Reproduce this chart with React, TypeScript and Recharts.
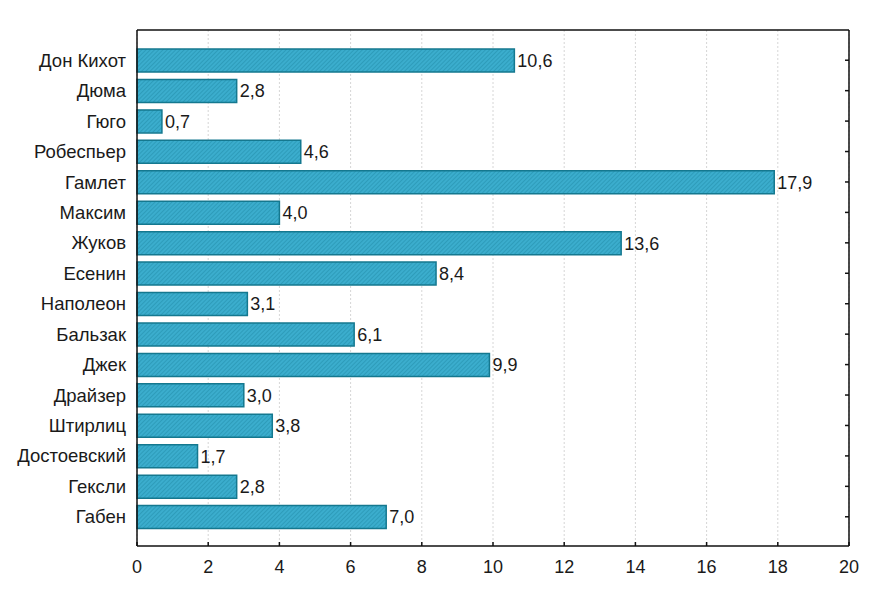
import React from "react";
import {
  BarChart,
  Bar,
  XAxis,
  YAxis,
  CartesianGrid,
  LabelList,
} from "recharts";

const names = [
  "Дон Кихот",
  "Дюма",
  "Гюго",
  "Робеспьер",
  "Гамлет",
  "Максим",
  "Жуков",
  "Есенин",
  "Наполеон",
  "Бальзак",
  "Джек",
  "Драйзер",
  "Штирлиц",
  "Достоевский",
  "Гексли",
  "Габен",
];

const values = [10.6, 2.8, 0.7, 4.6, 17.9, 4.0, 13.6, 8.4, 3.1, 6.1, 9.9, 3.0, 3.8, 1.7, 2.8, 7.0];

const xTicks = [0, 2, 4, 6, 8, 10, 12, 14, 16, 18, 20];

const data = names.map((name, i) => ({ name, value: values[i] }));

const font = "'Liberation Sans', Arial, sans-serif";

const BottomTick = (props: any) => {
  const { x, y, payload } = props;
  return (
    <g>
      <line x1={x} x2={x} y1={y} y2={y - 4} stroke="#111" strokeWidth={1.5} />
      <text x={x} y={y + 27} textAnchor="middle" fontSize={18} fill="#1a1a1a" fontFamily={font}>
        {payload.value}
      </text>
    </g>
  );
};

const TopTick = (props: any) => {
  const { x, y } = props;
  return <line x1={x} x2={x} y1={y} y2={y + 4} stroke="#111" strokeWidth={1.5} />;
};

const RightTick = (props: any) => {
  const { x, y } = props;
  return <line x1={x} x2={x - 4} y1={y} y2={y} stroke="#111" strokeWidth={1.5} />;
};

export default function App() {
  return (
    <div style={{ position: "absolute", left: 0, top: 0, background: "#fff" }}>
      <BarChart
        width={889}
        height={604}
        data={data}
        layout="vertical"
        margin={{ top: 29, right: 39, bottom: 0, left: 0 }}
      >
        <defs>
          <pattern
            id="hatch"
            width={3}
            height={3}
            patternUnits="userSpaceOnUse"
            patternTransform="rotate(45)"
          >
            <rect width={3} height={3} fill="#3badcd" />
            <line x1={0} y1={0} x2={0} y2={3} stroke="#2590ae" strokeWidth={1.2} />
          </pattern>
        </defs>
        <CartesianGrid horizontal={false} stroke="#d6d6d6" strokeDasharray="2 2" />
        <XAxis
          type="number"
          domain={[0, 20]}
          ticks={xTicks}
          interval={0}
          height={58}
          tickSize={0}
          tickMargin={0}
          axisLine={{ stroke: "#111", strokeWidth: 1.5 }}
          tickLine={false}
          tick={<BottomTick />}
        />
        <XAxis
          xAxisId="top"
          orientation="top"
          type="number"
          domain={[0, 20]}
          ticks={xTicks}
          interval={0}
          height={1}
          tickSize={0}
          tickMargin={0}
          axisLine={{ stroke: "#111", strokeWidth: 1.5 }}
          tickLine={false}
          tick={<TopTick />}
        />
        <YAxis
          type="category"
          dataKey="name"
          width={137}
          padding={{ top: 15, bottom: 14 }}
          tickLine={false}
          tickMargin={5}
          axisLine={{ stroke: "#111", strokeWidth: 1.5 }}
          tick={{ fontSize: 18.5, fill: "#1a1a1a", fontFamily: font }}
          interval={0}
        />
        <YAxis
          yAxisId="right"
          orientation="right"
          type="category"
          dataKey="name"
          width={1}
          padding={{ top: 15, bottom: 14 }}
          tickSize={0}
          tickMargin={0}
          tickLine={false}
          axisLine={{ stroke: "#111", strokeWidth: 1.5 }}
          tick={<RightTick />}
          interval={0}
        />
        <Bar
          dataKey="value"
          barSize={23}
          fill="url(#hatch)"
          stroke="#14788f"
          strokeWidth={1.5}
          isAnimationActive={false}
        >
          <LabelList
            dataKey="value"
            position="right"
            offset={3}
            formatter={(v: any) => Number(v).toFixed(1).replace(".", ",")}
            style={{ fontSize: 18, fill: "#1a1a1a", fontFamily: font }}
          />
        </Bar>
      </BarChart>
    </div>
  );
}
